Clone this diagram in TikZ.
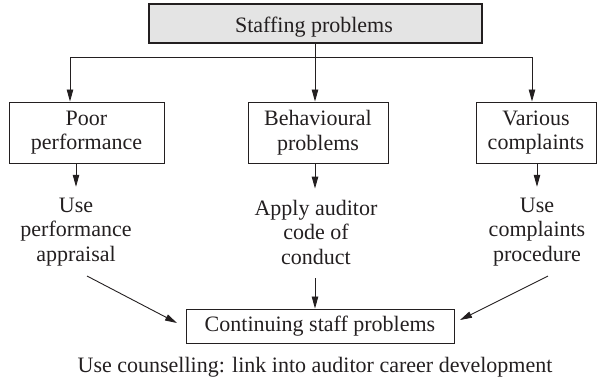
\documentclass[tikz,border=0pt]{standalone}
\usepackage{fontspec}
\setmainfont{Liberation Serif}
\usetikzlibrary{arrows.meta}
\definecolor{topgray}{HTML}{E4E4E4}
\definecolor{ink}{HTML}{231F20}
\newcommand{\txtfont}{\fontsize{22}{24.5}\selectfont}
\begin{document}
\begin{tikzpicture}[x=1pt,y=-1pt,
  box/.style={draw=ink, line width=1pt, inner sep=0pt, align=center, font=\txtfont, text=ink},
  lbl/.style={inner sep=0pt, align=center, font=\txtfont, text=ink},
  arr/.style={draw=ink, line width=0.9pt, -{Triangle[length=12pt,width=6.5pt]}},
  conn/.style={draw=ink, line width=0.9pt}]
\useasboundingbox (0,0) rectangle (598,384);

% heading box
\node[box, line width=2.4pt, fill=topgray, minimum width=333pt, minimum height=39pt] (top) at (315.5,23.5) {};
\node[lbl, anchor=base] (toptxt) at (314,32) {Staffing problems};

% problem boxes
\node[box, minimum width=155pt, minimum height=61pt] (box1) at (86.5,132.5) {Poor\\performance};
\node[box, minimum width=140pt, minimum height=61pt] (box2) at (318,132.5) {Behavioural\\problems};
\node[box, minimum width=120pt, minimum height=61pt] (box3) at (536,132.5) {Various\\complaints};

% responses
\node[lbl] (t1) at (76,232) {Use\\performance\\appraisal};
\node[lbl] (t2) at (316,232) {Apply auditor\\code of\\conduct};
\node[lbl] (t3) at (537,232) {Use\\complaints\\procedure};

% outcome
\node[box, minimum width=268pt, minimum height=34pt] (cont) at (320,326) {Continuing staff problems};
\node[lbl, anchor=base] (note) at (315,372) {Use counselling: link into auditor career development};

% distribution bus
\coordinate (bl) at (70,57);
\coordinate (bm) at (315,57);
\coordinate (br) at (532,57);
\draw[conn] (top.south -| bm) -- (bm);
\draw[conn] (bl) -- (br);
\draw[arr] (bl) -- (bl |- box1.north);
\draw[arr] (bm) -- (bm |- box2.north);
\draw[arr] (br) -- (br |- box3.north);

% problem to response
\draw[arr] (box1.south -| t1.north) -- ([yshift=11pt]t1.north);
\draw[arr] (box2.south -| bm) -- ([yshift=11pt]t2.north -| bm);
\draw[arr] (box3.south -| t3.north) -- ([yshift=11pt]t3.north);

% response to outcome
\coordinate (d1) at (87,276);
\coordinate (d1e) at (177,323);
\coordinate (d2) at (315,278);
\coordinate (d3) at (548,276);
\coordinate (d3e) at (460,320);
\draw[arr] (d1) -- (d1e);
\draw[arr] (d2) -- (d2 |- cont.north);
\draw[arr] (d3) -- (d3e);
\end{tikzpicture}
\end{document}
